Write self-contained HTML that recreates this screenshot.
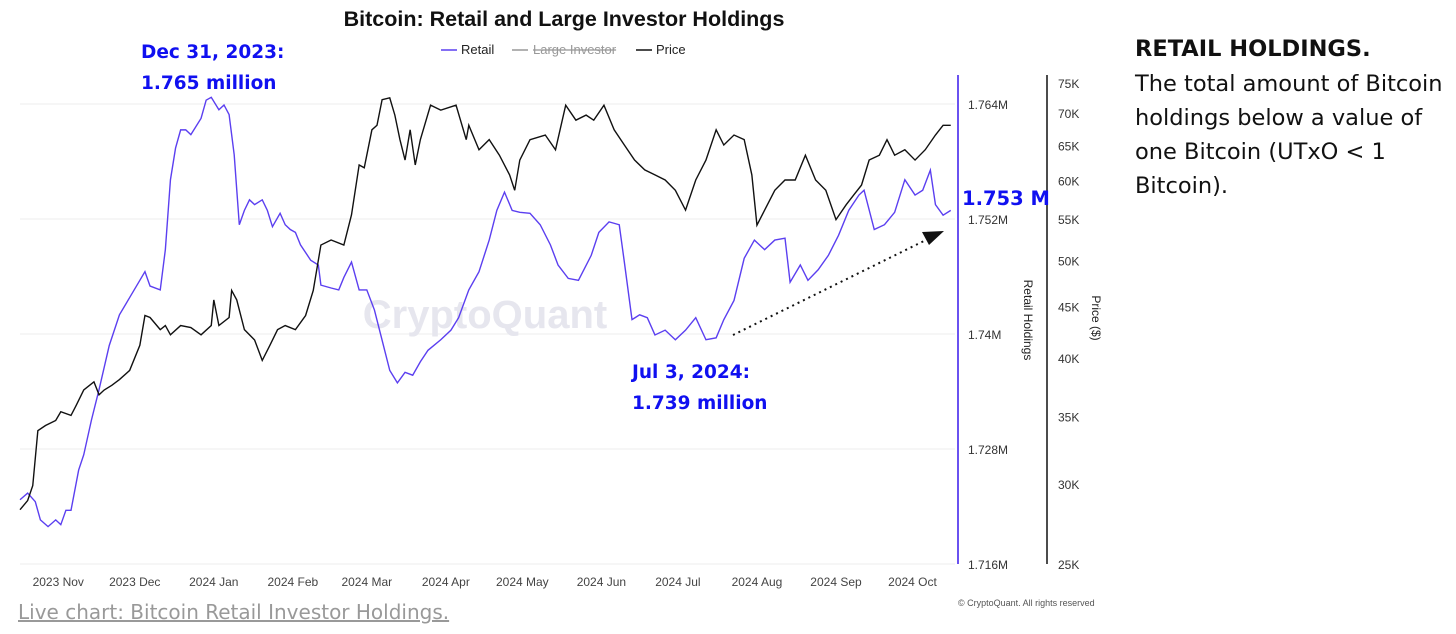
<!DOCTYPE html>
<html><head><meta charset="utf-8"><style>
body{margin:0;width:1456px;height:634px;background:#fff;overflow:hidden;font-family:"Liberation Sans",sans-serif;position:relative}
.side{position:absolute;left:1135px;font-family:"DejaVu Sans","Liberation Sans",sans-serif;font-size:22.5px;color:#111;line-height:34px;white-space:nowrap}
</style></head><body>
<svg width="1456" height="634" style="position:absolute;left:0;top:0">
<text x="564" y="26" text-anchor="middle" font-size="21.5" font-weight="bold" fill="#111">Bitcoin: Retail and Large Investor Holdings</text>
<g font-size="13" fill="#222">
<g><line x1="441" y1="50" x2="457" y2="50" stroke="#5b3ff0" stroke-width="1.5"/><text x="461" y="54">Retail</text></g>
<g><line x1="512" y1="50" x2="528" y2="50" stroke="#999" stroke-width="1.5"/><text x="533" y="54" fill="#999" text-decoration="line-through">Large Investor</text></g>
<g><line x1="636" y1="50" x2="652" y2="50" stroke="#111" stroke-width="1.5"/><text x="656" y="54">Price</text></g>
</g>
<g id="grid"></g>
<text x="485" y="328" text-anchor="middle" font-size="40" font-weight="bold" fill="#e6e6ee">CryptoQuant</text>
<g id="series"></g>
<line x1="958" y1="75" x2="958" y2="564" stroke="#6a52f0" stroke-width="2"/>
<line x1="1047" y1="75" x2="1047" y2="564" stroke="#111" stroke-width="1.5"/>
<g id="yaxes" font-size="12" fill="#333"></g>
<text transform="translate(1024,320) rotate(90)" text-anchor="middle" font-size="12" fill="#222">Retail Holdings</text>
<text transform="translate(1092,318) rotate(90)" text-anchor="middle" font-size="12" fill="#222">Price ($)</text>
<g id="xaxis" font-size="12" fill="#444"></g>
<text x="958" y="606" font-size="9" fill="#555">© CryptoQuant. All rights reserved</text>
<g font-weight="bold" fill="#1010f0" font-family="DejaVu Sans, Liberation Sans, sans-serif">
<text x="141" y="58" font-size="18.5">Dec 31, 2023:</text>
<text x="141" y="89" font-size="18.5">1.765 million</text>
<text x="632" y="378" font-size="18.5">Jul 3, 2024:</text>
<text x="632" y="409" font-size="18.5">1.739 million</text>
<text x="962" y="205" font-size="19.5">1.753 M</text>
</g>
<line x1="733" y1="335" x2="928" y2="239" stroke="#111" stroke-width="2" stroke-dasharray="2,4"/>
<polygon points="944,231 922,232 929,245" fill="#111"/>
</svg>
<div class="side" style="top:32px;font-weight:bold">RETAIL HOLDINGS.</div>
<div class="side" style="top:67px">The total amount of Bitcoin<br>holdings below a value of<br>one Bitcoin (UTxO &lt; 1<br>Bitcoin).</div>
<a style="position:absolute;left:18px;top:600px;font-family:'DejaVu Sans','Liberation Sans',sans-serif;font-size:20px;color:#999;text-decoration:underline">Live chart: Bitcoin Retail Investor Holdings.</a>
<script>
const retailDays=[0,3,6,8,11,14,16,18,20,23,25,28,31,35,39,43,47,49,51,55,57,59,61,63,65,67,71,73,75,78,80,82,84,86,88,90,92,95,97,99,102,104,106,108,110,114,117,118,122,125,127,130,133,136,139,141,145,148,151,154,157,160,165,169,172,176,180,184,187,190,193,196,200,204,208,211,215,219,224,227,231,235,237,240,243,246,249,253,257,261,265,269,273,276,280,284,288,292,296,300,302,306,309,313,317,321,325,329,331,335,339,343,347,351,354,357,359,362,365];
const retailValues=[1722.7,1723.4,1722.5,1720.6,1719.9,1720.6,1720.1,1721.6,1721.6,1725.8,1727.4,1731.0,1734.2,1738.8,1742.0,1743.8,1745.6,1746.5,1745.0,1744.6,1748.8,1756.1,1759.4,1761.3,1761.3,1760.8,1762.5,1764.4,1764.7,1763.4,1763.9,1762.9,1758.7,1751.4,1752.9,1754.0,1753.5,1754.0,1752.9,1751.2,1752.6,1751.4,1750.9,1750.6,1749.3,1747.7,1747.2,1745.1,1744.8,1744.6,1745.9,1747.5,1744.6,1744.6,1742.5,1740.4,1736.2,1734.9,1736.0,1735.7,1737.1,1738.3,1739.4,1740.4,1741.7,1744.6,1746.5,1749.8,1752.9,1754.8,1752.9,1752.7,1752.6,1751.4,1749.3,1747.2,1745.8,1745.6,1748.2,1750.6,1751.7,1751.4,1747.5,1741.5,1742.0,1741.7,1739.9,1740.4,1739.4,1740.4,1741.7,1739.4,1739.6,1741.5,1743.5,1747.9,1749.8,1748.8,1749.8,1750.0,1745.4,1747.2,1745.6,1746.7,1748.2,1750.3,1752.9,1754.5,1755.0,1750.9,1751.4,1752.7,1756.1,1754.5,1755.0,1757.1,1753.5,1752.4,1752.9];
const priceDays=[0,3,5,7,10,14,16,20,22,25,29,31,33,36,39,43,47,49,51,55,57,59,63,67,71,75,76,78,82,83,85,88,92,95,98,101,104,108,112,115,118,122,127,130,133,135,138,140,142,145,147,149,151,153,155,157,161,165,171,175,176,180,184,188,192,194,196,200,206,210,214,218,222,225,229,233,237,241,245,249,253,257,261,265,269,273,276,280,284,287,289,292,296,300,304,308,312,316,320,324,327,330,333,337,340,343,347,351,355,359,362,365];
const priceValues=[28.3,28.9,29.9,33.9,34.3,34.7,35.4,35.1,35.9,37.2,37.9,36.8,37.2,37.6,38.1,38.9,41.2,44.1,43.9,42.7,43.1,42.2,43.1,42.9,42.2,43.1,45.7,43.1,43.9,46.7,45.7,42.7,41.7,39.8,41.2,42.7,43.1,42.7,44.1,46.7,51.8,52.4,51.8,55.5,62.2,61.8,67.4,68.1,72.2,72.5,69.7,65.9,62.9,67.4,62.2,65.9,71.3,70.5,71.3,65.9,68.1,64.4,65.9,63.6,60.8,58.7,62.9,65.9,66.6,64.4,71.3,68.9,69.7,68.9,71.3,67.4,65.1,62.9,61.5,60.8,60.1,58.7,56.1,60.1,62.9,67.4,65.1,66.6,65.9,60.8,54.2,56.1,58.7,60.1,60.1,63.6,60.1,58.7,54.9,56.8,58.1,59.4,62.9,63.6,65.9,63.6,64.4,62.9,64.4,66.6,68.1,68.1];
const retailTicks=[1764,1752,1740,1728,1716];
const retailTickLabels=["1.764M","1.752M","1.74M","1.728M","1.716M"];
const priceTicks=[75,70,65,60,55,50,45,40,35,30,25];
const monthDays=[15,45,76,107,136,167,197,228,258,289,320,350];
const monthLabels=["2023 Nov","2023 Dec","2024 Jan","2024 Feb","2024 Mar","2024 Apr","2024 May","2024 Jun","2024 Jul","2024 Aug","2024 Sep","2024 Oct"];

const NS="http://www.w3.org/2000/svg";
const xS=d=>20+d*2.55;
const yR=v=>104+(1764-v)*9.583;
const yP=v=>564-Math.log(v/25)*437.8;
function mk(tag,attrs,parent){const e=document.createElementNS(NS,tag);for(const k in attrs)e.setAttribute(k,attrs[k]);parent.appendChild(e);return e;}
const grid=document.getElementById('grid'),series=document.getElementById('series'),ya=document.getElementById('yaxes'),xa=document.getElementById('xaxis');
retailTicks.forEach((t,i)=>{
  const g=mk('line',{x1:20,x2:955,y1:yR(t),y2:yR(t),stroke:'#eeeeee'},grid);
  
  
  const l=mk('text',{x:968,y:yR(t)+5},ya);l.textContent=retailTickLabels[i];
  
  
});
priceTicks.forEach(t=>{
  const l=mk('text',{x:1058,y:yP(t)+5},ya);l.textContent=t+'K';
  
  
});
monthDays.forEach((d,i)=>{
  const l=mk('text',{x:xS(d),y:586,'text-anchor':'middle'},xa);l.textContent=monthLabels[i];
  
  
});
const rp=mk('polyline',{points:retailDays.map((d,i)=>xS(d)+','+yR(retailValues[i])).join(' '),fill:'none',stroke:'#5b3ff0','stroke-width':1.4},series);


const pp=mk('polyline',{points:priceDays.map((d,i)=>xS(d)+','+yP(priceValues[i])).join(' '),fill:'none',stroke:'#111','stroke-width':1.4},series);


</script>
</body></html>
